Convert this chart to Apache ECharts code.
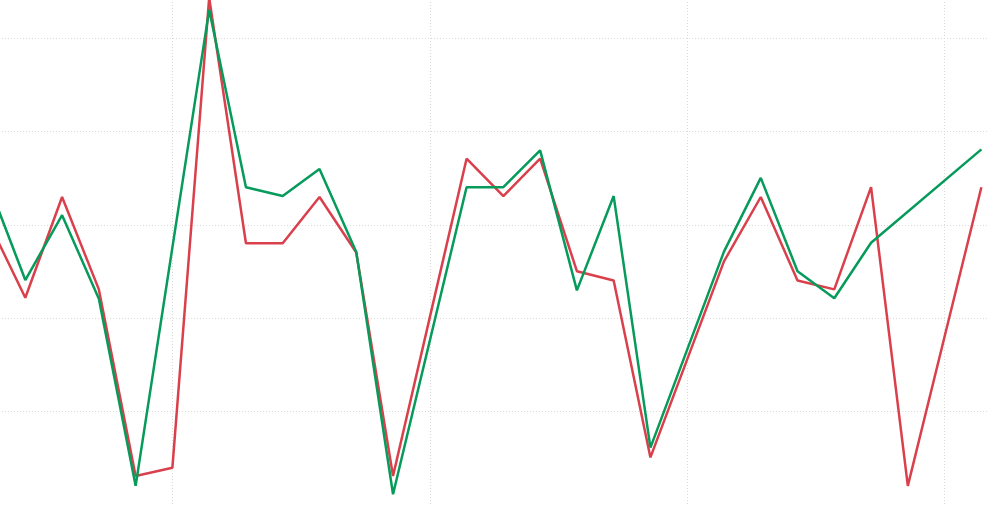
<!DOCTYPE html>
<html>
<head>
<meta charset="utf-8">
<title>Two series</title>
<script src="https://cdn.jsdelivr.net/npm/echarts@6/dist/echarts.min.js"></script>
<style>
    html, body { margin: 0; padding: 0; background: #fff; overflow: hidden; width: 998px; height: 505px; }
    /* the plot runs past the window on the left and top, like the source crop */
    #main { position: absolute; left: -85.4px; top: -54.7px; width: 1083.4px; height: 560.4px; }
</style>
</head>
<body>
<div id="main"></div>
<script>
// day positions on the x axis (split lines every 7 days)
var days = [2, 3, 4, 5, 6, 7, 8, 9, 10, 11, 12, 13, 14, 15, 16, 17, 18, 19, 20, 21, 22, 23, 24, 25, 26, 27, 28, 29];

var redValues = [60.7, 44.4, 66.0, 46.2, 6.2, 8.0, 108.7, 56.1, 56.1, 66.0, 54.1, 6.2, 40.2, 74.2,
    66.2, 74.2, 50.1, 48.1, 10.2, 31.2, 52.2, 66.0, 48.1, 46.2, 68.1, 4.1, 36.1, 68.1];

// green has no values for two days near the end, the line runs across them
var greenValues = [68.8, 48.2, 62.1, 44.2, 4.1, 55.2, 106.1, 68.1, 66.2, 72.0, 54.2, 2.3, 35.2, 68.1,
    68.1, 76.0, 46.0, 66.2, 12.3, 33.3, 54.3, 70.1, 50.1, 44.3, 56.2, null, null, 76.2];

function pairs(xs, ys) {
    var out = [];
    for (var i = 0; i < xs.length; i++) {
        out.push([xs[i], ys[i]]);
    }
    return out;
}

var gridLineStyle = { color: '#dadada', type: [1, 2], width: 1 };

var chart = echarts.init(document.getElementById('main'));
chart.setOption({
    animation: false,
    grid: { left: 0, right: 10, top: 0, bottom: 0, containLabel: false },
    xAxis: {
        type: 'value',
        min: 0,
        max: 29.18,
        interval: 7,
        axisLine: { show: false },
        axisTick: { show: false },
        axisLabel: { show: false },
        splitLine: {
            show: true,
            showMinLine: false,
            showMaxLine: false,
            lineStyle: gridLineStyle
        }
    },
    yAxis: {
        type: 'value',
        min: 0,
        max: 120,
        interval: 20,
        axisLine: { show: false },
        axisTick: { show: false },
        axisLabel: { show: false },
        splitLine: { show: true, lineStyle: gridLineStyle }
    },
    series: [
        {
            name: 'red',
            type: 'line',
            data: pairs(days, redValues),
            symbol: 'none',
            lineStyle: { color: '#d9404b', width: 2.5 },
            itemStyle: { color: '#d9404b' }
        },
        {
            name: 'green',
            type: 'line',
            data: pairs(days, greenValues),
            symbol: 'none',
            connectNulls: true,
            lineStyle: { color: '#069a5b', width: 2.5 },
            itemStyle: { color: '#069a5b' }
        }
    ]
});
</script>
</body>
</html>
